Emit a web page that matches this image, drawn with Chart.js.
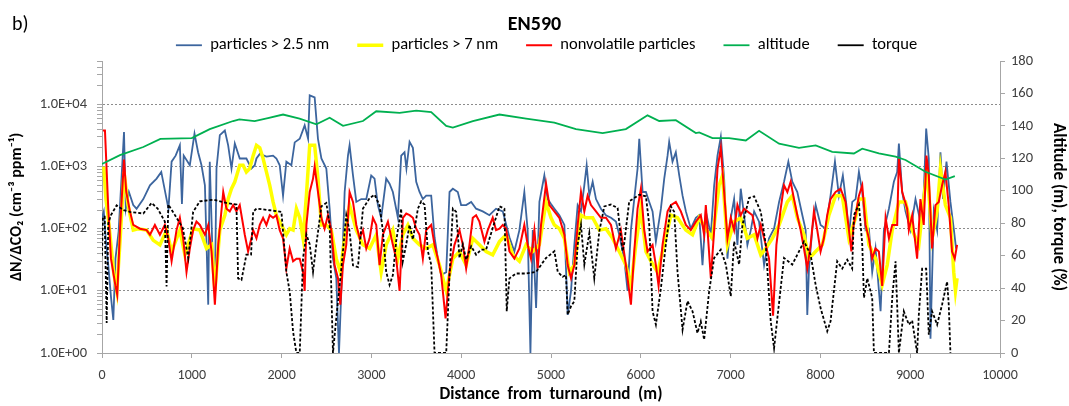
<!DOCTYPE html>
<html>
<head>
<meta charset="utf-8">
<script src="https://cdn.jsdelivr.net/npm/chart.js@4.4.1/dist/chart.umd.min.js"></script>
<style>
  html, body { margin: 0; padding: 0; background: #fff; }
  #wrap { position: relative; width: 1069px; height: 406px; }
  #panel { position: absolute; left: 12px; top: 11px; font: 20px Carlito, Calibri, Lato, sans-serif; color: #000; }
</style>
</head>
<body>
<div id="wrap">
  <canvas id="chart" width="1069" height="406"></canvas>
  <div id="panel">b)</div>
</div>
<script>
// particles > 2.5 nm  (left axis, cm-3 ppm-1)
const dist25 = [0,20,45,70,100,126,150,185,245,265,300,348,385,460,534,608,660,719,740,775,820,867,890,910,978,1030,1070,1108,1146,1183,1200,1238,1257,1275,1312,1368,1405,1442,1479,1534,1608,1664,1701,1720,1757,1831,1905,1942,1979,2016,2053,2109,2146,2202,2257,2295,2313,2368,2405,2443,2498,2535,2572,2609,2639,2665,2702,2739,2757,2795,2832,2887,2943,2998,3035,3072,3109,3165,3202,3239,3295,3332,3369,3390,3425,3462,3499,3536,3573,3610,3666,3703,3740,3777,3833,3870,3907,3962,3999,4055,4111,4166,4240,4314,4388,4463,4537,4592,4648,4703,4740,4771,4797,4834,4871,4926,4963,5000,5038,5093,5149,5186,5223,5260,5297,5334,5371,5397,5427,5464,5501,5556,5612,5668,5723,5760,5815,5853,5890,5927,5964,5983,6020,6057,6094,6131,6168,6224,6261,6298,6316,6353,6390,6428,6465,6502,6557,6613,6650,6687,6724,6780,6817,6854,6891,6928,6965,7002,7039,7076,7113,7150,7187,7225,7262,7317,7373,7428,7484,7540,7595,7643,7687,7743,7799,7836,7854,7873,7910,7947,8002,8058,8113,8162,8206,8250,8290,8318,8355,8392,8429,8466,8503,8540,8577,8614,8670,8707,8763,8818,8855,8874,8911,8948,9004,9059,9114,9151,9178,9207,9226,9263,9300,9337,9366,9404,9448,9485,9511];
const n25 = [150,190,60,26,8,3.4,33,90,3600,210,390,240,210,300,500,640,820,300,210,1200,1500,2200,250,1500,1050,3400,1700,1050,500,6,1200,18,10,930,3200,3800,2200,930,2350,1350,1350,930,1050,1350,1600,1450,1500,1350,1050,340,1200,1050,2450,2800,4600,2800,14000,13000,2800,1350,930,210,33,16,1,10,390,1500,2200,720,270,300,300,720,640,240,150,640,530,390,150,1500,1700,930,2500,2000,570,390,300,340,340,73,33,18,20,390,440,390,240,240,270,210,190,165,210,190,73,43,95,390,95,1,95,5.3,270,720,300,250,210,165,115,4.1,10,55,240,190,500,1050,340,570,300,210,165,150,130,80,33,10,95,300,930,2800,390,390,270,190,62,210,640,1500,2500,1200,1700,720,340,190,100,150,165,26,190,80,500,1500,3000,640,33,150,300,55,440,165,55,95,190,130,26,70,100,270,570,1200,570,390,165,95,4.1,23,100,240,115,100,340,1200,340,720,240,80,270,300,820,390,95,100,20,48,4.7,95,210,570,820,2350,390,190,95,300,130,390,4100,1350,1.7,190,95,1700,300,1200,270,100,48];

// particles > 7 nm
const dist7 = [20,44,70,100,130,165,200,245,290,348,400,497,571,645,719,775,867,923,1015,1090,1164,1220,1257,1312,1368,1405,1442,1479,1534,1571,1608,1645,1683,1720,1757,1794,1831,1868,1905,1942,1998,2053,2090,2128,2165,2202,2239,2276,2313,2368,2405,2443,2498,2553,2609,2654,2702,2757,2832,2906,2980,3054,3109,3165,3239,3295,3350,3406,3462,3536,3610,3684,3758,3833,3907,3981,4055,4129,4203,4277,4351,4426,4500,4574,4648,4722,4796,4870,4945,5000,5037,5093,5149,5204,5260,5334,5390,5464,5538,5612,5686,5760,5834,5890,5945,6001,6057,6112,6187,6260,6335,6409,6501,6576,6650,6724,6798,6872,6910,6965,7039,7113,7187,7262,7336,7391,7465,7540,7632,7687,7743,7817,7873,7947,8021,8095,8169,8243,8317,8392,8429,8485,8540,8614,8688,8744,8800,8874,8948,9022,9096,9151,9188,9244,9300,9337,9392,9448,9485,9504,9522];
const n7 = [1000,300,150,55,20,10,60,820,240,95,100,95,65,55,95,43,95,38,100,95,48,55,10,95,165,300,440,570,1050,1050,820,930,1500,2200,2000,1350,820,500,270,165,115,80,100,95,210,150,70,340,2200,2200,640,115,115,95,33,20,70,240,95,55,48,80,20,55,95,33,80,115,70,55,48,55,26,10,33,43,26,70,55,43,38,62,80,38,30,55,43,55,270,150,115,100,70,20,26,165,150,150,95,100,70,43,26,12,55,210,43,30,20,55,165,150,95,80,150,100,70,500,720,55,130,150,70,80,38,48,70,115,270,340,150,80,33,43,55,165,340,340,70,150,300,300,55,33,12.5,26,95,270,270,95,55,300,930,70,190,930,240,150,20,10,16];

// nonvolatile particles
const distNv = [10,33,70,100,150,170,200,245,270,311,348,423,497,534,589,645,700,738,775,830,867,904,941,978,1015,1052,1090,1146,1183,1220,1257,1294,1350,1386,1423,1460,1497,1534,1590,1627,1664,1683,1720,1757,1794,1831,1868,1905,1942,1979,2016,2053,2090,2128,2165,2202,2239,2257,2276,2313,2350,2368,2405,2443,2479,2516,2553,2590,2628,2654,2683,2720,2757,2795,2832,2869,2906,2943,2980,3017,3054,3091,3128,3184,3239,3276,3314,3351,3388,3425,3462,3499,3536,3573,3610,3666,3703,3740,3777,3826,3870,3925,3981,4018,4055,4092,4129,4166,4203,4259,4296,4351,4388,4426,4463,4500,4537,4592,4648,4703,4740,4777,4815,4852,4889,4945,4982,5037,5093,5149,5186,5223,5260,5297,5334,5371,5408,5445,5501,5556,5612,5668,5723,5778,5834,5890,5927,5964,6001,6038,6075,6131,6168,6198,6242,6298,6335,6390,6446,6502,6557,6613,6668,6705,6724,6780,6817,6854,6891,6928,6965,7002,7039,7076,7113,7150,7187,7243,7299,7336,7391,7428,7473,7510,7558,7595,7632,7669,7706,7743,7780,7817,7854,7891,7928,7965,8002,8039,8076,8113,8169,8225,8280,8318,8345,8370,8392,8429,8466,8503,8540,8577,8614,8651,8688,8726,8763,8800,8855,8874,8911,8966,8985,9022,9077,9114,9151,9181,9207,9244,9281,9318,9355,9392,9429,9466,9496,9522];
const nNv = [3800,3800,210,33,12,8.6,95,1300,390,190,115,100,95,80,115,80,115,70,30,95,150,70,20,48,95,130,115,80,115,43,6,55,390,210,190,240,190,240,80,43,70,95,70,115,150,115,165,150,165,95,70,23,48,30,33,33,20,10,115,390,640,1000,390,150,100,165,95,26,16,6,26,55,390,270,115,70,95,48,70,150,115,26,80,130,55,33,10,150,175,165,150,100,80,33,95,115,55,33,18,3.6,20,55,95,55,23,55,150,165,130,62,95,150,95,100,115,100,43,33,48,115,55,33,95,23,115,530,240,190,150,80,26,16,26,115,390,190,340,240,190,150,150,115,48,95,26,6,43,210,440,95,43,55,26,12,55,190,240,270,190,115,95,130,165,80,240,16,95,930,2000,390,70,150,95,240,165,210,190,165,70,115,55,33,4,55,210,500,390,570,300,165,95,48,23,55,190,95,43,70,165,300,390,440,270,95,43,115,165,340,500,115,70,33,48,43,12,150,70,115,115,1350,390,210,95,165,33,300,115,1500,720,48,240,270,500,820,240,43,33,55];

// altitude (right axis, m)
const distAlt = [0,200,460,650,1000,1200,1460,1530,1700,1860,2016,2200,2387,2535,2684,2906,3054,3314,3499,3666,3833,3907,4130,4426,4723,5037,5278,5575,5834,6075,6205,6390,6613,6650,6798,6983,7169,7317,7540,7762,7947,8132,8373,8466,8651,8837,8948,9170,9393,9497];
const altitude = [116.5,122,127,132,132.5,138,143,144,143,145,147,144.5,141,145,140,143,149,148,149.4,148.5,140,139,143,147,144.5,142,138,135.6,138,146.5,143,143.5,135.6,136,132.5,132.5,131,137,129,126.5,128,124,123,126,123,121,119,111.7,106.9,109];

// torque (right axis, %)
const distTq = [0,10,30,52,70,100,163,240,311,460,552,620,700,719,738,812,900,960,1015,1090,1238,1386,1497,1516,1553,1608,1660,1683,1720,1868,1998,2053,2090,2128,2165,2202,2239,2276,2313,2350,2387,2443,2498,2535,2572,2609,2665,2720,2757,2795,2850,2906,2980,3035,3091,3128,3165,3202,3239,3276,3332,3350,3388,3425,3462,3518,3555,3592,3629,3666,3703,3833,3870,3907,3944,3981,4018,4055,4111,4166,4222,4277,4351,4426,4481,4500,4507,4537,4611,4723,4834,4945,5038,5075,5130,5167,5186,5223,5260,5297,5334,5371,5427,5482,5538,5594,5668,5742,5797,5816,5871,5983,6057,6094,6131,6168,6224,6279,6335,6372,6409,6465,6520,6576,6631,6668,6705,6761,6817,6891,6947,7002,7039,7095,7132,7206,7262,7336,7391,7447,7484,7521,7595,7687,7762,7817,7891,7947,8002,8076,8113,8150,8187,8243,8299,8354,8373,8429,8466,8485,8522,8577,8596,8763,8800,8837,8874,8929,8985,9022,9077,9096,9133,9178,9207,9244,9300,9355,9411,9429,9448];
const torque = [60,84,84,18.5,80,85,91,88,87,86,92.5,89,81,41,91.5,85,77,58.6,87,93.5,94.5,92.5,91.5,46,45,60.6,60.6,87,89,88,87,50,38,13,0,0,58.6,73,67,50,67,90.4,92.5,79,0,21.6,52,85,75,54,53,89,95.5,97.6,91,75,50,42,48,69,89,56.5,67,79,70,89,93.5,91.5,62.7,54.5,0,0,48,89,87,58.6,67,57.5,65.8,60.6,63.7,63.7,77,90.4,89,44,25.7,46,49,49,50,58.6,62.7,50,47,48,23.6,28.8,32,67,79,54.5,74,46,75,90.4,91.5,89.4,62.7,67.8,93.5,97.6,96.6,79,25.7,17.5,40,67,90.4,87,50,14.4,32,25.7,12.3,19.5,8.2,38,58.6,63.7,54.5,35,68.8,54.5,79,95.6,96.6,87,67,19.5,3,21.6,58.6,54.5,62.7,68.8,60.6,42,27.7,13.4,19.5,38,56.5,52,57.5,52,85,91.5,67,34,46,34,0,0,34,56.5,0,25.7,17.5,20,0,23.6,52,52,11.3,25.7,17.5,29.8,44,30,0];

const FONT = 'Carlito, Calibri, Lato, sans-serif';
Chart.defaults.font.family = FONT;
Chart.defaults.color = '#404040';

const zip = (xs, ys) => xs.map((x, i) => ({ x: x, y: ys[i] }));
const isPow10 = v => Math.abs(Math.log10(v) - Math.round(Math.log10(v))) < 1e-9;
const axisGrey = '#a6a6a6';

// legend sits a little right of centre in the original
const legendShift = {
  id: 'legendShift',
  afterLayout(chart) {
    chart.legend.left += 12;
    chart.legend.right += 12;
  }
};

const ctx = document.getElementById('chart').getContext('2d');
new Chart(ctx, {
  type: 'line',
  data: {
    datasets: [
      { label: 'particles > 2.5 nm', data: zip(dist25, n25), borderColor: '#3c659e', borderWidth: 1.8, yAxisID: 'y', order: 5 },
      { label: 'particles > 7 nm', data: zip(dist7, n7), borderColor: '#ffff00', borderWidth: 3.5, yAxisID: 'y', order: 4 },
      { label: 'nonvolatile particles', data: zip(distNv, nNv), borderColor: '#ff0000', borderWidth: 2, yAxisID: 'y', order: 3 },
      { label: 'altitude', data: zip(distAlt, altitude), borderColor: '#00b050', borderWidth: 1.8, yAxisID: 'y1', order: 2 },
      { label: 'torque', data: zip(distTq, torque), borderColor: '#000000', borderWidth: 1.8, borderDash: [3, 2], yAxisID: 'y1', order: 1 }
    ]
  },
  options: {
    responsive: false,
    animation: false,
    elements: { point: { radius: 0 }, line: { tension: 0, fill: false } },
    layout: { padding: 0 },
    plugins: {
      title: {
        display: true, text: 'EN590', color: '#000',
        font: { size: 20, weight: 'bold' }, padding: { top: 13, bottom: -28 }
      },
      legend: {
        maxHeight: 52,
        labels: {
          usePointStyle: true, pointStyle: 'line', pointStyleWidth: 26,
          padding: 28, color: '#000', font: { size: 16.5 },
          sort: (a, b) => a.datasetIndex - b.datasetIndex
        }
      },
      tooltip: { enabled: false }
    },
    scales: {
      x: {
        type: 'linear', min: 0, max: 10000,
        ticks: { stepSize: 1000, font: { size: 14 }, padding: 9, maxRotation: 0, callback: v => String(v) },
        grid: { drawOnChartArea: false, tickLength: 5, color: axisGrey },
        border: { color: axisGrey },
        title: { display: true, text: 'Distance  from  turnaround  (m)', color: '#000', font: { size: 17, weight: 'bold' }, padding: { top: 0, bottom: 1 } },
        afterFit: s => { s.height = 53; }
      },
      y: {
        type: 'logarithmic', position: 'left', min: 1, max: 50000,
        afterBuildTicks: s => {
          const t = [];
          for (let e = 0; e <= 4; e++) {
            for (let k = 1; k <= 9; k++) {
              const v = k * Math.pow(10, e);
              if (v <= 50000) t.push({ value: v });
            }
          }
          s.ticks = t;
        },
        ticks: {
          autoSkip: false, font: { size: 14.5 }, padding: 10,
          callback: v => isPow10(v) ? '1.0E+' + String(Math.round(Math.log10(v))).padStart(2, '0') : ''
        },
        grid: {
          tickLength: 5, tickColor: axisGrey,
          color: c => (c.tick && isPow10(c.tick.value) && c.tick.value > 1) ? '#8c8c8c' : 'rgba(0,0,0,0)'
        },
        border: { color: axisGrey, dash: [2, 2] },
        title: { display: true, text: 'ΔN/ΔCO₂ (cm⁻³ ppm⁻¹)', color: '#000', font: { size: 16, weight: 'bold' }, padding: { top: 7, bottom: 0 } },
        afterFit: s => { s.width = 102; }
      },
      y1: {
        type: 'linear', position: 'right', min: 0, max: 180,
        ticks: { stepSize: 20, font: { size: 14.5 }, padding: 6 },
        grid: { drawOnChartArea: false, tickLength: 5, color: axisGrey },
        border: { color: axisGrey },
        title: { display: true, text: 'Altitude (m), torque (%)', color: '#000', font: { size: 17, weight: 'bold' }, padding: { top: 1, bottom: 0 } },
        afterFit: s => { s.width = 69; }
      }
    }
  },
  plugins: [legendShift]
});
</script>
</body>
</html>
